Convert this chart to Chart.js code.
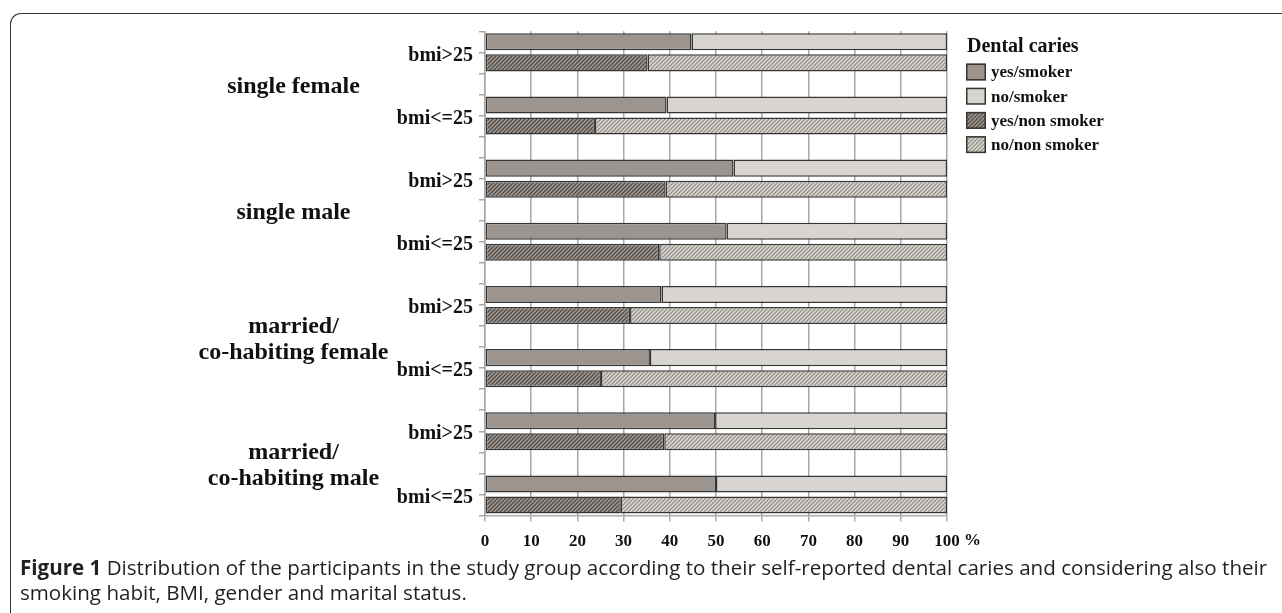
<!DOCTYPE html>
<html>
<head>
<meta charset="utf-8">
<script src="https://cdn.jsdelivr.net/npm/chart.js@4.4.1/dist/chart.umd.min.js"></script>
<style>
  html, body { margin: 0; padding: 0; background: #fff; overflow: hidden; }
  body { width: 1282px; height: 613px; position: relative; }
  #frame { position: absolute; left: 10px; top: 13px; width: 1290px; height: 620px;
           border-left: 1.5px solid #333; border-top: 1.5px solid #333; border-top-left-radius: 11px; }
  #chart { position: absolute; left: 0; top: 0; }
  .cap { position: absolute; left: 20px; white-space: nowrap; font-family: "Open Sans", "Noto Sans", sans-serif;
         color: #231f20; font-size: 17px; }
  .cap b { font-weight: 700; }
</style>
</head>
<body>
<div id="frame"></div>
<canvas id="chart" width="1282" height="613"></canvas>
<div class="cap" id="cap1"><b>Figure 1</b> Distribution of the participants in the study group according to their self-reported dental caries and considering also their</div>
<div class="cap" id="cap2">smoking habit, BMI, gender and marital status.</div>
<script>
// ---- data ----
const groupLabels = [["single female"], ["single male"], ["married/", "co-habiting female"], ["married/", "co-habiting male"]];
const subgroupLabels = ["bmi>25", "bmi<=25", "bmi>25", "bmi<=25", "bmi>25", "bmi<=25", "bmi>25", "bmi<=25"];
const seriesNames = ["yes/smoker", "no/smoker", "yes/non smoker", "no/non smoker"];
const legendTitle = "Dental caries";
const yesSmoker    = [44.7, 39.3, 53.8, 52.3, 38.2, 35.7, 49.8, 50.0];
const noSmoker     = [55.3, 60.7, 46.2, 47.7, 61.8, 64.3, 50.2, 50.0];
const yesNonSmoker = [35.2, 23.8, 39.1, 37.7, 31.4, 25.1, 38.8, 29.4];
const noNonSmoker  = [64.8, 76.2, 60.9, 62.3, 68.6, 74.9, 61.2, 70.6];
const xTickValues = [0, 10, 20, 30, 40, 50, 60, 70, 80, 90, 100];
const xUnit = "%";

// ---- rows: smoker bar, non-smoker bar, empty spacer ----
const rowLabels = [];
const rowsYS = [], rowsNS = [], rowsYN = [], rowsNN = [];
subgroupLabels.forEach((s, i) => {
  rowLabels.push(s + " smoker");
  rowsYS.push(yesSmoker[i]); rowsNS.push(noSmoker[i]); rowsYN.push(null); rowsNN.push(null);
  rowLabels.push(s + " non smoker");
  rowsYS.push(null); rowsNS.push(null); rowsYN.push(yesNonSmoker[i]); rowsNN.push(noNonSmoker[i]);
  if (i < subgroupLabels.length - 1) {
    rowLabels.push("");
    rowsYS.push(null); rowsNS.push(null); rowsYN.push(null); rowsNN.push(null);
  }
});

function hatch(bg, fg) {
  const c = document.createElement("canvas");
  const n = 4;
  c.width = n; c.height = n;
  const x = c.getContext("2d");
  x.fillStyle = bg; x.fillRect(0, 0, n, n);
  x.strokeStyle = fg; x.lineWidth = 1.1;
  x.beginPath();
  x.moveTo(-1, n + 1); x.lineTo(n + 1, -1);
  x.moveTo(-1, 1); x.lineTo(1, -1);
  x.moveTo(n - 1, n + 1); x.lineTo(n + 1, n - 1);
  x.stroke();
  return x.createPattern(c, "repeat");
}

const fills = ["#9c948f", "#d8d4cf", hatch("#9c948f", "#4a4542"), hatch("#d8d4cf", "#8c8781")];
const serif = "'Liberation Serif', 'Times New Roman', serif";
const border = "#353535";

const labelPlugin = {
  id: "labels",
  afterDraw(chart) {
    const ctx = chart.ctx;
    const y = chart.scales.y, x = chart.scales.x;
    ctx.save();
    ctx.fillStyle = "#111";
    // subgroup labels
    ctx.font = "bold 20px " + serif;
    ctx.textAlign = "right"; ctx.textBaseline = "middle";
    const subY = [];
    subgroupLabels.forEach((s, i) => {
      const yy = (y.getPixelForValue(3 * i) + y.getPixelForValue(3 * i + 1)) / 2;
      subY.push(yy);
      ctx.fillText(s, 473, yy + 3);
    });
    // group labels
    ctx.font = "bold 24px " + serif;
    ctx.textAlign = "center";
    groupLabels.forEach((lines, g) => {
      const mid = (subY[2 * g] + subY[2 * g + 1]) / 2 + 3;
      const lh = 26.5;
      lines.forEach((t, k) => {
        ctx.fillText(t, 293.5, mid + (k - (lines.length - 1) / 2) * lh);
      });
    });
    // unit after last x tick
    ctx.font = "bold 17px " + serif;
    ctx.textAlign = "left";
    const lastX = x.getPixelForValue(xTickValues[xTickValues.length - 1]);
    const w = ctx.measureText(String(xTickValues[xTickValues.length - 1])).width;
    ctx.fillText(" " + xUnit, lastX + w / 2, x.bottom - 40 + 25);
    // legend
    ctx.font = "bold 20px " + serif;
    ctx.fillText(legendTitle, 967, 47);
    ctx.font = "bold 17px " + serif;
    chart.data.datasets.forEach((ds, i) => {
      const cy = 72 + i * 24.2;
      ctx.fillStyle = ds.backgroundColor;
      ctx.fillRect(966, cy - 8.5, 20, 17);
      ctx.strokeStyle = border; ctx.lineWidth = 1.5;
      ctx.strokeRect(966.75, cy - 7.75, 18.5, 15.5);
      ctx.fillStyle = "#111";
      ctx.fillText(ds.label, 991, cy + 1);
    });
    ctx.restore();
  }
};

const mk = (i, data) => ({
  label: seriesNames[i], data, backgroundColor: fills[i],
  borderColor: border, borderWidth: 1.5, borderSkipped: false,
  categoryPercentage: 1.0, barPercentage: 0.81
});

new Chart(document.getElementById("chart"), {
  type: "bar",
  data: {
    labels: rowLabels,
    datasets: [mk(0, rowsYS), mk(1, rowsNS), mk(2, rowsYN), mk(3, rowsNN)]
  },
  options: {
    indexAxis: "y",
    responsive: false,
    animation: false,
    layout: { padding: { left: 479, top: 31.3, right: 335, bottom: 57.5 } },
    plugins: { legend: { display: false }, tooltip: { enabled: false } },
    scales: {
      x: {
        stacked: true, min: 0, max: 100,
        afterBuildTicks: s => { s.ticks = xTickValues.map(v => ({ value: v })); },
        afterFit: s => { s.height = 40; },
        grid: { color: "#a8a8a8", lineWidth: 1.5, drawTicks: true, tickLength: 6, tickColor: "#a8a8a8" },
        border: { display: true, color: "#a8a8a8", width: 1.5 },
        ticks: { color: "#111", font: { family: serif, size: 17, weight: "bold" }, padding: 10, maxRotation: 0,
                 callback: v => String(v) }
      },
      y: {
        stacked: true,
        afterFit: s => { s.width = 6; },
        grid: { drawOnChartArea: false, drawTicks: true, tickLength: 6, color: "#a8a8a8", lineWidth: 1.5, offset: true },
        border: { display: true, color: "#a8a8a8", width: 1.5 },
        ticks: { display: false }
      }
    }
  },
  plugins: [labelPlugin]
});

// fit caption first line to the figure width
(function fitCaption() {
  const c1 = document.getElementById("cap1"), c2 = document.getElementById("cap2");
  const target = 1248;
  const w = c1.getBoundingClientRect().width;
  const fs = 17 * target / w;
  c1.style.fontSize = fs + "px"; c2.style.fontSize = fs + "px";
  const h = c1.getBoundingClientRect().height;
  c1.style.top = (567 - h / 2) + "px";
  c2.style.top = (592 - h / 2) + "px";
})();
</script>
</body>
</html>
